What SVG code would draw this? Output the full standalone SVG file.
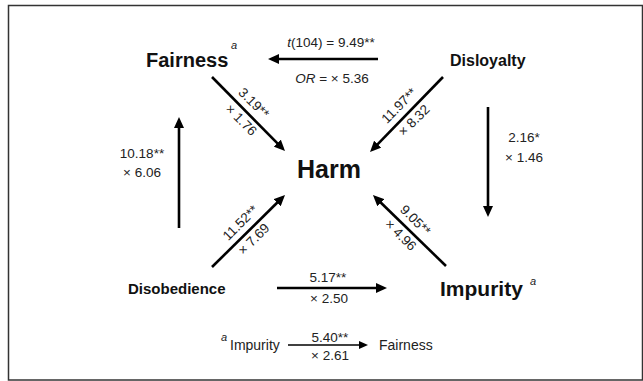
<svg xmlns="http://www.w3.org/2000/svg" width="643" height="381" viewBox="0 0 643 381">
<style>
  .node{font-family:"Liberation Sans",Arial,sans-serif;font-weight:bold;fill:#111}
  .num{font-family:"Liberation Sans",Arial,sans-serif;font-size:13.5px;fill:#222}
  .sup{font-family:"Liberation Sans",Arial,sans-serif;font-style:italic;font-size:11px;fill:#222}
  .leg{font-family:"Liberation Sans",Arial,sans-serif;font-size:14px;fill:#222}
  .c{text-anchor:middle}
  .edge{stroke:#000;stroke-width:2.6;fill:none;marker-end:url(#ah)}
  .thin{stroke:#000;stroke-width:1.5;fill:none;marker-end:url(#ahs)}
</style>
<defs>
  <marker id="ah" markerUnits="userSpaceOnUse" markerWidth="11" markerHeight="10" refX="2" refY="5" orient="auto">
    <path d="M0,0 L11,5 L0,10 z" fill="#000"/>
  </marker>
  <marker id="ahs" markerUnits="userSpaceOnUse" markerWidth="9" markerHeight="8" refX="2" refY="4" orient="auto">
    <path d="M0,0 L9,4 L0,8 z" fill="#000"/>
  </marker>
</defs>
<rect x="0" y="0" width="643" height="381" fill="#fff"/>
<rect x="8.5" y="5.5" width="634" height="374.5" fill="none" stroke="#333" stroke-width="1.5"/>

<g id="connectors">
  <line class="edge" x1="378" y1="59" x2="277" y2="59"/>
  <line class="edge" x1="212" y1="77" x2="278.7" y2="144.6"/>
  <line class="edge" x1="443" y1="77" x2="376.3" y2="145.6"/>
  <line class="edge" x1="212" y1="267" x2="278.6" y2="201.3"/>
  <line class="edge" x1="446" y1="266" x2="379.4" y2="201.3"/>
  <line class="edge" x1="179" y1="228" x2="179" y2="126"/>
  <line class="edge" x1="488" y1="107" x2="488" y2="208"/>
  <line class="edge" x1="277" y1="288" x2="378" y2="288"/>
  <line class="thin" x1="288" y1="345" x2="361" y2="345"/>

  <text class="num c" x="331" y="47"><tspan font-style="italic">t</tspan>(104) = 9.49**</text>
  <text class="num c" x="332" y="83"><tspan font-style="italic">OR</tspan> = × 5.36</text>

  <g transform="translate(248.5,114) rotate(45)">
    <text class="num c" x="-4" y="-7">3.19**</text>
    <text class="num c" x="-1" y="14">× 1.76</text>
  </g>
  <g transform="translate(406.5,114.5) rotate(-45)">
    <text class="num c" x="1" y="-7">11.97**</text>
    <text class="num c" x="1" y="14">× 8.32</text>
  </g>
  <g transform="translate(248.5,231) rotate(-45)">
    <text class="num c" x="0" y="-7">11.52**</text>
    <text class="num c" x="-2" y="14">× 7.69</text>
  </g>
  <g transform="translate(409.5,230.5) rotate(45)">
    <text class="num c" x="-3" y="-7">9.05**</text>
    <text class="num c" x="-3" y="14">× 4.96</text>
  </g>

  <text class="num c" x="142" y="158">10.18**</text>
  <text class="num c" x="142" y="177">× 6.06</text>
  <text class="num c" x="524" y="142">2.16*</text>
  <text class="num c" x="524" y="162">× 1.46</text>
  <text class="num c" x="328" y="282">5.17**</text>
  <text class="num c" x="329" y="303">× 2.50</text>
</g>

<g id="fairness">
  <text class="node" x="146" y="67" font-size="20">Fairness</text>
  <text class="sup" x="231" y="49">a</text>
</g>
<g id="disloyalty">
  <text class="node" x="450" y="66" font-size="16">Disloyalty</text>
</g>
<g id="harm">
  <text class="node c" x="329" y="178" font-size="25">Harm</text>
</g>
<g id="disobedience">
  <text class="node" x="128" y="294" font-size="15">Disobedience</text>
</g>
<g id="impurity">
  <text class="node" x="440" y="296" font-size="21">Impurity</text>
  <text class="sup" x="530" y="285">a</text>
</g>

<g id="legend">
  <text class="sup" x="221" y="341">a</text>
  <text class="leg" x="230" y="350">Impurity</text>
  <text class="num c" x="330" y="342" font-size="12">5.40**</text>
  <text class="num c" x="330" y="360" font-size="12">× 2.61</text>
  <text class="leg" x="379" y="350">Fairness</text>
</g>
</svg>
